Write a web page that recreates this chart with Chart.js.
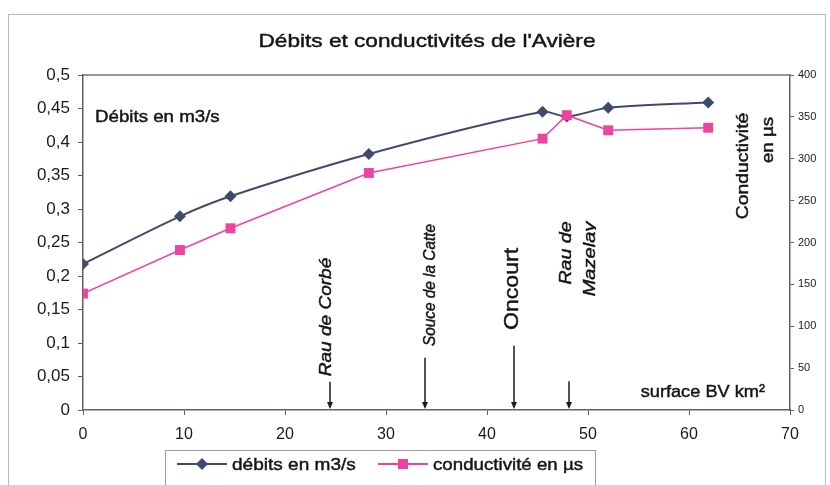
<!DOCTYPE html>
<html>
<head>
<meta charset="utf-8">
<script src="https://cdn.jsdelivr.net/npm/chart.js@4"></script>
<style>
  html, body { margin: 0; padding: 0; background: #fff; }
  #graphe { display: block; }
</style>
</head>
<body>
<canvas id="graphe" width="830" height="485"></canvas>
<script>
// surface du bassin versant (km²) à chaque point de mesure
const surfaces = [0, 9.6, 14.6, 28.3, 45.5, 47.9, 52, 61.9];
// débits en m3/s
const debits = [0.218, 0.289, 0.319, 0.382, 0.445, 0.438, 0.451, 0.459];
// conductivité en µs
const conductivites = [139, 191, 217, 283, 324, 352, 334, 337];

// affluents / repères le long de la rivière (surface BV en km²)
const repereNoms = ["Rau de Corbé", "Souce de la Catte", "Oncourt", "Rau de Mazelay"];
const repereSurfaces = [24.5, 33.9, 42.7, 48.1];

const BLEU = "#3f4b6e";
const ROSE = "#ee449f";
const POLICE = "'Liberation Sans', Arial, sans-serif";

function points(xs, ys) {
  return xs.map((x, i) => ({ x: x, y: ys[i] }));
}

// texte un peu élargi et épaissi, comme dans le graphique Excel d'origine
function texte(ctx, txt, x, y, taille, etirement, opts) {
  opts = opts || {};
  ctx.save();
  ctx.translate(x, y);
  if (opts.angle) ctx.rotate(opts.angle);
  ctx.scale(etirement, 1);
  ctx.font = (opts.italique ? "italic " : "") + taille + "px " + POLICE;
  ctx.fillStyle = "#151515";
  ctx.strokeStyle = "#151515";
  ctx.lineWidth = 0.45;
  ctx.textAlign = opts.align || "center";
  ctx.textBaseline = "middle";
  ctx.fillText(txt, 0, 0);
  ctx.strokeText(txt, 0, 0);
  ctx.restore();
}

function losange(ctx, x, y, r, couleur) {
  ctx.fillStyle = couleur;
  ctx.beginPath();
  ctx.moveTo(x, y - r);
  ctx.lineTo(x + r, y);
  ctx.lineTo(x, y + r);
  ctx.lineTo(x - r, y);
  ctx.closePath();
  ctx.fill();
}

const decor = {
  id: "decor",
  beforeDraw(chart) {
    const ctx = chart.ctx;
    ctx.save();
    ctx.strokeStyle = "#b8b8b8";
    ctx.lineWidth = 1;
    ctx.strokeRect(8.5, 14.5, 817, 480);
    ctx.restore();
  },
  afterDraw(chart) {
    const ctx = chart.ctx;
    const ca = chart.chartArea;
    const sx = chart.scales.x;
    const sy = chart.scales.y;
    ctx.save();

    // bord haut de la zone de tracé
    ctx.strokeStyle = "#6d7282";
    ctx.lineWidth = 1.5;
    ctx.beginPath();
    ctx.moveTo(ca.left, ca.top);
    ctx.lineTo(ca.right, ca.top);
    ctx.stroke();

    // titre et libellés des axes
    texte(ctx, "Débits et conductivités de l'Avière", 427, 42, 19, 1.19);
    texte(ctx, "Débits en m3/s", 95, 117, 17, 1.1, { align: "left" });
    texte(ctx, "surface BV km²", 765, 392, 17, 1.07, { align: "right" });
    texte(ctx, "Conductivité", 743, 166, 17, 1.14, { angle: -Math.PI / 2 });
    texte(ctx, "en µs", 768, 140, 17, 1.1, { angle: -Math.PI / 2 });

    // flèches des repères
    const hauts = [0.042, 0.078, 0.096, 0.043];
    ctx.strokeStyle = "#1a1a1a";
    ctx.fillStyle = "#1a1a1a";
    ctx.lineWidth = 1.5;
    repereSurfaces.forEach((s, i) => {
      const px = Math.round(sx.getPixelForValue(s));
      const top = sy.getPixelForValue(hauts[i]);
      const bas = ca.bottom - 1;
      ctx.beginPath();
      ctx.moveTo(px, top);
      ctx.lineTo(px, bas - 5);
      ctx.stroke();
      ctx.beginPath();
      ctx.moveTo(px - 3, bas - 7);
      ctx.lineTo(px + 3, bas - 7);
      ctx.lineTo(px, bas);
      ctx.closePath();
      ctx.fill();
    });

    const v = -Math.PI / 2;
    texte(ctx, repereNoms[0], 326, 317, 17, 1.12, { angle: v, italique: true });
    texte(ctx, repereNoms[1], 431, 285, 16, 0.96, { angle: v, italique: true });
    texte(ctx, repereNoms[2], 512, 289, 21, 1.1, { angle: v });
    const mots = repereNoms[3].split(" ");
    texte(ctx, mots.slice(0, 2).join(" "), 566, 253, 17, 1.15, { angle: v, italique: true });
    ctx.save();
    ctx.beginPath();
    ctx.rect(570, 200, 26, 120);
    ctx.clip();
    texte(ctx, mots[2], 590, 259, 17, 1.18, { angle: v, italique: true });
    ctx.restore();

    // légende
    ctx.strokeStyle = "#9a9a9a";
    ctx.lineWidth = 1;
    ctx.strokeRect(165.5, 450.5, 430, 40);
    const ds = chart.data.datasets;
    ctx.lineWidth = 2;
    ctx.strokeStyle = BLEU;
    ctx.beginPath();
    ctx.moveTo(177, 464);
    ctx.lineTo(227, 464);
    ctx.stroke();
    losange(ctx, 202, 464, 6, BLEU);
    texte(ctx, ds[0].label, 232, 465, 17, 1.12, { align: "left" });
    ctx.strokeStyle = ROSE;
    ctx.beginPath();
    ctx.moveTo(378, 464);
    ctx.lineTo(428, 464);
    ctx.stroke();
    ctx.fillStyle = ROSE;
    ctx.fillRect(398, 459, 10, 10);
    texte(ctx, ds[1].label, 433, 465, 17, 1.1, { align: "left" });

    ctx.restore();
  }
};

const axeCouleur = "#5d6170";

new Chart(document.getElementById("graphe"), {
  type: "line",
  data: {
    datasets: [
      {
        label: "débits en m3/s",
        data: points(surfaces, debits),
        yAxisID: "y",
        borderColor: BLEU,
        backgroundColor: BLEU,
        borderWidth: 2,
        pointStyle: "rectRot",
        pointRadius: 6,
        pointBorderWidth: 0,
        tension: 0.3,
        order: 1
      },
      {
        label: "conductivité en µs",
        data: points(surfaces, conductivites),
        yAxisID: "y2",
        borderColor: ROSE,
        backgroundColor: ROSE,
        borderWidth: 1.5,
        pointStyle: "rect",
        pointRadius: 7,
        pointBorderWidth: 0,
        tension: 0,
        order: 0
      }
    ]
  },
  options: {
    responsive: false,
    animation: false,
    devicePixelRatio: 1,
    layout: { padding: { top: 75, left: 0, right: 0, bottom: 0 } },
    plugins: {
      legend: { display: false },
      title: { display: false },
      tooltip: { enabled: false }
    },
    scales: {
      x: {
        type: "linear",
        min: 0,
        max: 70,
        ticks: {
          stepSize: 10,
          color: "#1a1a1a",
          padding: 10,
          maxRotation: 0,
          font: { family: POLICE, size: 16 }
        },
        grid: { drawOnChartArea: false, drawTicks: true, tickLength: 5, color: axeCouleur },
        border: { display: true, color: axeCouleur, width: 1.5 },
        afterFit(s) { s.height = 75; }
      },
      y: {
        position: "left",
        min: 0,
        max: 0.5,
        ticks: {
          stepSize: 0.05,
          color: "#1a1a1a",
          padding: 8,
          font: { family: POLICE, size: 17 },
          callback: (val) => String(Math.round(val * 100) / 100).replace(".", ",")
        },
        grid: { drawOnChartArea: false, drawTicks: true, tickLength: 5, color: axeCouleur },
        border: { display: true, color: axeCouleur, width: 1.5 },
        afterFit(s) { s.width = 83; }
      },
      y2: {
        position: "right",
        min: 0,
        max: 400,
        ticks: {
          stepSize: 50,
          color: "#1a1a1a",
          padding: 4,
          font: { family: POLICE, size: 11 }
        },
        grid: { drawOnChartArea: false, drawTicks: true, tickLength: 4, color: axeCouleur },
        border: { display: true, color: axeCouleur, width: 1.5 },
        afterFit(s) { s.width = 40; }
      }
    }
  },
  plugins: [decor]
});
</script>
</body>
</html>
